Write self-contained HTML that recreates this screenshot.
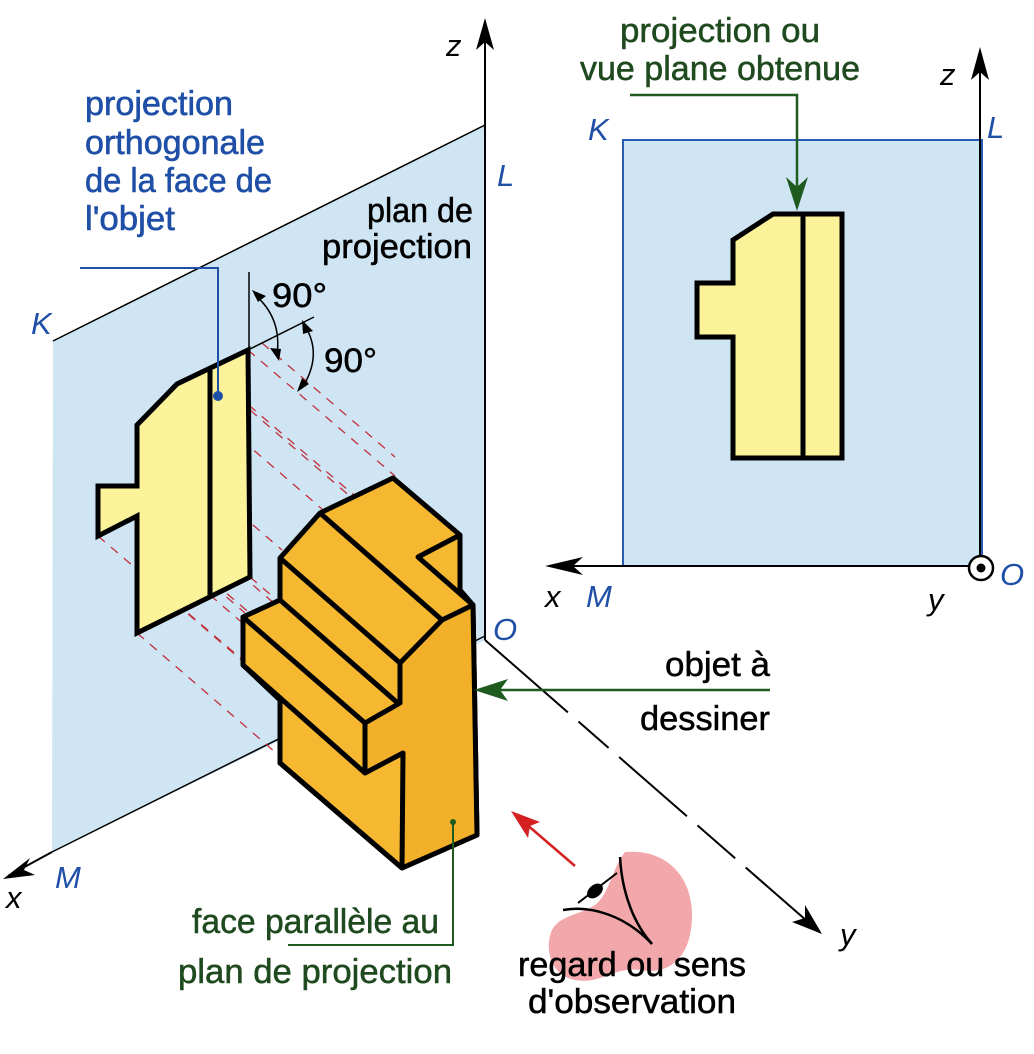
<!DOCTYPE html>
<html><head><meta charset="utf-8"><style>
html,body{margin:0;padding:0;background:#fff;}
svg{display:block;}
text{font-family:"Liberation Sans Narrow","Liberation Sans",sans-serif;}
</style></head><body>
<svg width="1034" height="1054" viewBox="0 0 1034 1054" xmlns="http://www.w3.org/2000/svg">
<!-- left plane -->
<polygon points="53,341 485,125 485,640 52,852" fill="#cfe5f4"/>
<line x1="53" y1="341" x2="485" y2="125" stroke="#000" stroke-width="1.5"/>
<line x1="52" y1="852" x2="485" y2="636" stroke="#000" stroke-width="1.5"/>
<!-- z axis -->
<line x1="485" y1="640" x2="485" y2="30" stroke="#000" stroke-width="2"/>
<path d="M485,18 L494,50 L485,42 L476,50 z" fill="#000"/>
<!-- x axis -->
<line x1="52" y1="852" x2="8" y2="876" stroke="#000" stroke-width="2"/>
<path d="M3,879 L30,858 L24,870 L35,875 z" fill="#000"/>
<!-- y axis dashed -->
<line x1="485" y1="640" x2="815" y2="928" stroke="#000" stroke-width="2" stroke-dasharray="110,14,40,14,90,14,50,14"/>
<path d="M822,934 L792,922 L805,918 L805,905 z" fill="#000"/>
<!-- red dashed projection lines -->
<g stroke="#c0303a" stroke-width="1.3" stroke-dasharray="9,8" fill="none">
<line x1="248" y1="350" x2="395" y2="476"/>
<line x1="262" y1="343" x2="395" y2="457"/>
<line x1="210" y1="372" x2="355" y2="496"/>
<line x1="177" y1="384" x2="322" y2="509"/>
<line x1="137" y1="425" x2="282" y2="550"/>
<line x1="137" y1="486" x2="282" y2="610"/>
<line x1="98" y1="486" x2="245" y2="613"/>
<line x1="98" y1="536" x2="245" y2="662"/>
<line x1="137" y1="516" x2="282" y2="641"/>
<line x1="137" y1="633" x2="282" y2="758"/>
<line x1="250" y1="577" x2="300" y2="620"/>
<line x1="210" y1="595" x2="282" y2="657"/>
<line x1="137" y1="570" x2="282" y2="695"/>
<line x1="250" y1="410" x2="395" y2="535"/>
</g>
<!-- projection on left plane -->
<polygon points="248,350 177,384 137,425 137,486 98,486 98,536 137,516 137,633 250,577" fill="#fbf29a" stroke="#000" stroke-width="5" stroke-linejoin="miter"/>
<line x1="210" y1="370" x2="210" y2="597" stroke="#000" stroke-width="5"/>
<!-- 90 degree construction -->
<line x1="249" y1="272" x2="249" y2="350" stroke="#000" stroke-width="1.5"/>
<line x1="248" y1="350" x2="314" y2="317" stroke="#000" stroke-width="1.5"/>
<path d="M255,295 Q282,318 277,355" fill="none" stroke="#000" stroke-width="1.5"/>
<path d="M252,290 L266,296 L258,302 z M279,361 L270,348 L281,349 z" fill="#000"/>
<path d="M305,326 Q323,355 302,388" fill="none" stroke="#000" stroke-width="1.5"/>
<path d="M302,320 L313,331 L303,334 z M297,392 L302,378 L309,384 z" fill="#000"/>
<!-- leader blue -->
<polyline points="80,268 218,268 218,396" fill="none" stroke="#1f4fa6" stroke-width="2"/>
<circle cx="218" cy="396" r="5" fill="#1f4fa6"/>
<!-- object -->
<g stroke="#000" stroke-width="5" stroke-linejoin="round" fill="#f5b830">
<polygon points="393,478 460,535 460,590 473,605 477,835 402,868 280,763 280,700 243,665 243,617 280,600 280,558 320,513"/>
<polygon points="442,620 473,605 477,835 402,868 403,753 365,773 365,723 400,703 400,663" fill="#f2b02a"/>
<polyline points="460,535 418,557 473,605" fill="none"/>
<polyline points="320,513 442,620" fill="none"/>
<polyline points="280,558 400,663" fill="none"/>
<polyline points="280,600 400,705" fill="none"/>
<polyline points="243,617 365,723" fill="none"/>
<polyline points="243,665 365,773" fill="none"/>
<polyline points="280,700 280,763 402,868" fill="none"/>
</g>
<!-- green leaders -->
<line x1="770" y1="690" x2="480" y2="690" stroke="#1f5a1f" stroke-width="2.5"/>
<path d="M474,690 L508,679 L500,690 L508,701 z" fill="#1f5a1f"/>
<polyline points="453,822 453,945 288,945" fill="none" stroke="#1f5a1f" stroke-width="2"/>
<circle cx="453" cy="822" r="3" fill="#1f5a1f"/>
<!-- red arrow -->
<line x1="575" y1="866" x2="518" y2="817" stroke="#d42020" stroke-width="2.5"/>
<path d="M511,811 L540,822 L530,826 L528,838 z" fill="#d42020"/>
<!-- eye -->
<path d="M625,852 C672,848 700,885 690,935 C684,962 665,975 640,970 C615,966 600,985 575,980 C548,975 545,945 552,930 C560,915 580,915 595,905 C610,893 612,868 625,852 z" fill="#f2a8aa"/>
<path d="M620,857 C622,895 635,925 652,944" fill="none" stroke="#000" stroke-width="2.5"/>
<path d="M563,910 C590,905 625,915 652,944" fill="none" stroke="#000" stroke-width="2.5"/>
<line x1="578" y1="903" x2="617" y2="873" stroke="#000" stroke-width="2"/>
<ellipse cx="595" cy="891" rx="9" ry="6" transform="rotate(-40 595 891)" fill="#000"/>
<!-- right panel -->
<rect x="623" y="140" width="359" height="426" fill="#cfe5f4" stroke="#2a5cb5" stroke-width="2"/>
<line x1="980" y1="566" x2="980" y2="60" stroke="#000" stroke-width="2"/>
<path d="M980,47 L989,80 L980,72 L971,80 z" fill="#000"/>
<line x1="980" y1="566" x2="552" y2="566" stroke="#000" stroke-width="2"/>
<path d="M545,566 L583,557 L573,566 L583,575 z" fill="#000"/>
<circle cx="981" cy="568" r="12" fill="#fff" stroke="#000" stroke-width="2.5"/>
<circle cx="981" cy="568" r="4.5" fill="#000"/>
<polygon points="773,214 733,240 733,283 697,283 697,337 733,337 733,458 842,458 842,214" fill="#fbf29a" stroke="#000" stroke-width="5"/>
<line x1="803" y1="214" x2="803" y2="458" stroke="#000" stroke-width="5"/>
<polyline points="630,95 797,95 797,195" fill="none" stroke="#1f5a1f" stroke-width="2.5"/>
<path d="M797,211 L786,177 L797,187 L808,177 z" fill="#1f5a1f"/>
<!-- texts -->
<g fill="#1f4fa6" font-size="34" stroke="#1f4fa6" stroke-width="0.6">
<text x="85" y="115" textLength="148" lengthAdjust="spacingAndGlyphs">projection</text>
<text x="85" y="154" textLength="180" lengthAdjust="spacingAndGlyphs">orthogonale</text>
<text x="85" y="192" textLength="187" lengthAdjust="spacingAndGlyphs">de la face de</text>
<text x="85" y="230" textLength="90" lengthAdjust="spacingAndGlyphs">l'objet</text>
</g>
<g fill="#1f4fa6" font-size="31" font-style="italic">
<text x="31" y="334">K</text>
<text x="497" y="186">L</text>
<text x="493" y="640">O</text>
<text x="55" y="888">M</text>
<text x="588" y="140">K</text>
<text x="987" y="138">L</text>
<text x="1000" y="585">O</text>
<text x="586" y="607">M</text>
</g>
<g fill="#000" font-size="34" stroke="#000" stroke-width="0.5">
<text x="367" y="222" textLength="106" lengthAdjust="spacingAndGlyphs">plan de</text>
<text x="322" y="258" textLength="150" lengthAdjust="spacingAndGlyphs">projection</text>
<text x="272" y="307" textLength="55" lengthAdjust="spacingAndGlyphs">90°</text>
<text x="324" y="372" textLength="53" lengthAdjust="spacingAndGlyphs">90°</text>
<text x="665" y="676" textLength="105" lengthAdjust="spacingAndGlyphs">objet à</text>
<text x="640" y="730" textLength="130" lengthAdjust="spacingAndGlyphs">dessiner</text>
<text x="518" y="976" textLength="228" lengthAdjust="spacingAndGlyphs">regard ou sens</text>
<text x="528" y="1013" textLength="208" lengthAdjust="spacingAndGlyphs">d'observation</text>
</g>
<g fill="#000" font-size="31" font-style="italic">
<text x="446" y="56">z</text>
<text x="940" y="85">z</text>
<text x="6" y="908">x</text>
<text x="545" y="607">x</text>
<text x="928" y="610">y</text>
<text x="840" y="945">y</text>
</g>
<g fill="#1f4a1f" font-size="34" stroke="#1f4a1f" stroke-width="0.5">
<text x="620" y="42" textLength="200" lengthAdjust="spacingAndGlyphs">projection ou</text>
<text x="580" y="80" textLength="280" lengthAdjust="spacingAndGlyphs">vue plane obtenue</text>
<text x="192" y="933" textLength="247" lengthAdjust="spacingAndGlyphs">face parallèle au</text>
<text x="178" y="983" textLength="274" lengthAdjust="spacingAndGlyphs">plan de projection</text>
</g>
</svg>
</body></html>
